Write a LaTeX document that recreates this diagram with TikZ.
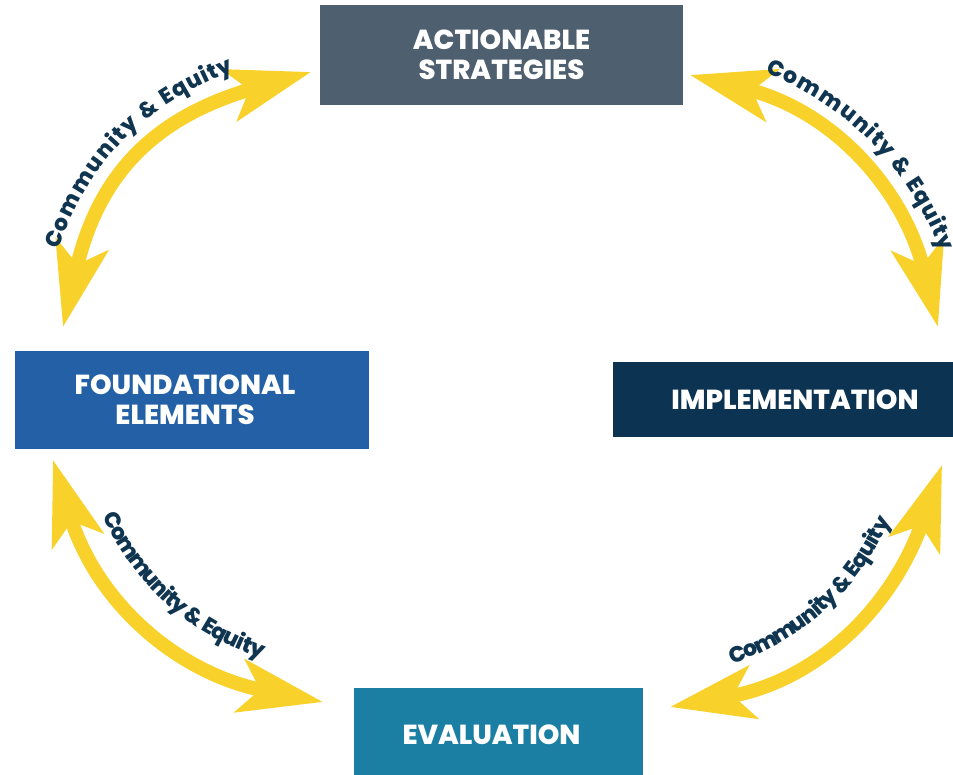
\documentclass[tikz,border=0pt]{standalone}
\usepackage{fontspec}
\setmainfont{Poppins}[BoldFont={Poppins ExtraBold}]
\usetikzlibrary{arrows.meta,decorations.text}
\definecolor{actc}{HTML}{4E5F6F}
\definecolor{founc}{HTML}{2360A5}
\definecolor{implc}{HTML}{0D3352}
\definecolor{evalc}{HTML}{1B7FA4}
\definecolor{yel}{HTML}{F9D12B}
\definecolor{labelc}{HTML}{0F3550}
\newcommand\boxfont{\bfseries\fontsize{27.5}{30}\selectfont}
\newcommand\lblfont{\bfseries\fontsize{22}{22}\selectfont}
\tikzset{
  stagebox/.style={fill=#1, text=white, align=center, font=\boxfont, inner sep=0pt, anchor=center},
  cyclearrow/.style={draw=yel, line width=14pt,
    {Stealth[length=84pt,width=53pt,inset=20pt]}-{Stealth[length=84pt,width=53pt,inset=20pt]}},
  cyclelabel/.style={decorate, decoration={text along path, text align=center, raise=26pt,
    text color=labelc, text={|\lblfont|Community{\kern5pt}{\&}{\kern5pt}Equity}}}
}
\begin{document}
\begin{tikzpicture}[x=1pt,y=1pt]
\clip (0,0) rectangle (953,775);
\fill[white] (0,0) rectangle (953,775);
% boxes
\node[stagebox=actc, minimum width=363pt, minimum height=100pt] (act) at (501.5,720) {ACTIONABLE\\STRATEGIES};
\node[stagebox=founc, minimum width=354pt, minimum height=98pt] (foun) at (192,375) {FOUNDATIONAL\hspace*{14pt}\\ELEMENTS\hspace*{14pt}};
\node[stagebox=implc, minimum width=340pt, minimum height=75pt] (impl) at (783,375.5) {\hspace*{24pt}IMPLEMENTATION};
\node[stagebox=evalc, minimum width=289pt, minimum height=93pt] (eval) at (498.5,40.5) {EVALUATION\hspace*{14pt}};
% arrow end points
\coordinate (a1) at (63,448);
\coordinate (b1) at (311,703);
\coordinate (a2) at (690,700);
\coordinate (b2) at (938,448);
\coordinate (a3) at (53,315);
\coordinate (b3) at (323,73);
\coordinate (b4) at (670,68);
\coordinate (a4) at (942,310);
% arrows
\draw[cyclearrow] (a1) to[out=77,in=196,looseness=1.15] (b1);
\draw[cyclearrow] (a2) to[out=-14,in=104,looseness=1.05] (b2);
\draw[cyclearrow] (a3) to[out=-73,in=169,looseness=1.05] (b3);
\draw[cyclearrow] (b4) to[out=10,in=251,looseness=1.05] (a4);
% labels
\path[cyclelabel] (a1) to[out=77,in=196,looseness=1.15] (b1);
\path[cyclelabel] (a2) to[out=-14,in=104,looseness=1.05] (b2);
\path[cyclelabel] (a3) to[out=-73,in=169,looseness=1.05] (b3);
\path[cyclelabel] (b4) to[out=10,in=251,looseness=1.05] (a4);
\end{tikzpicture}
\end{document}
